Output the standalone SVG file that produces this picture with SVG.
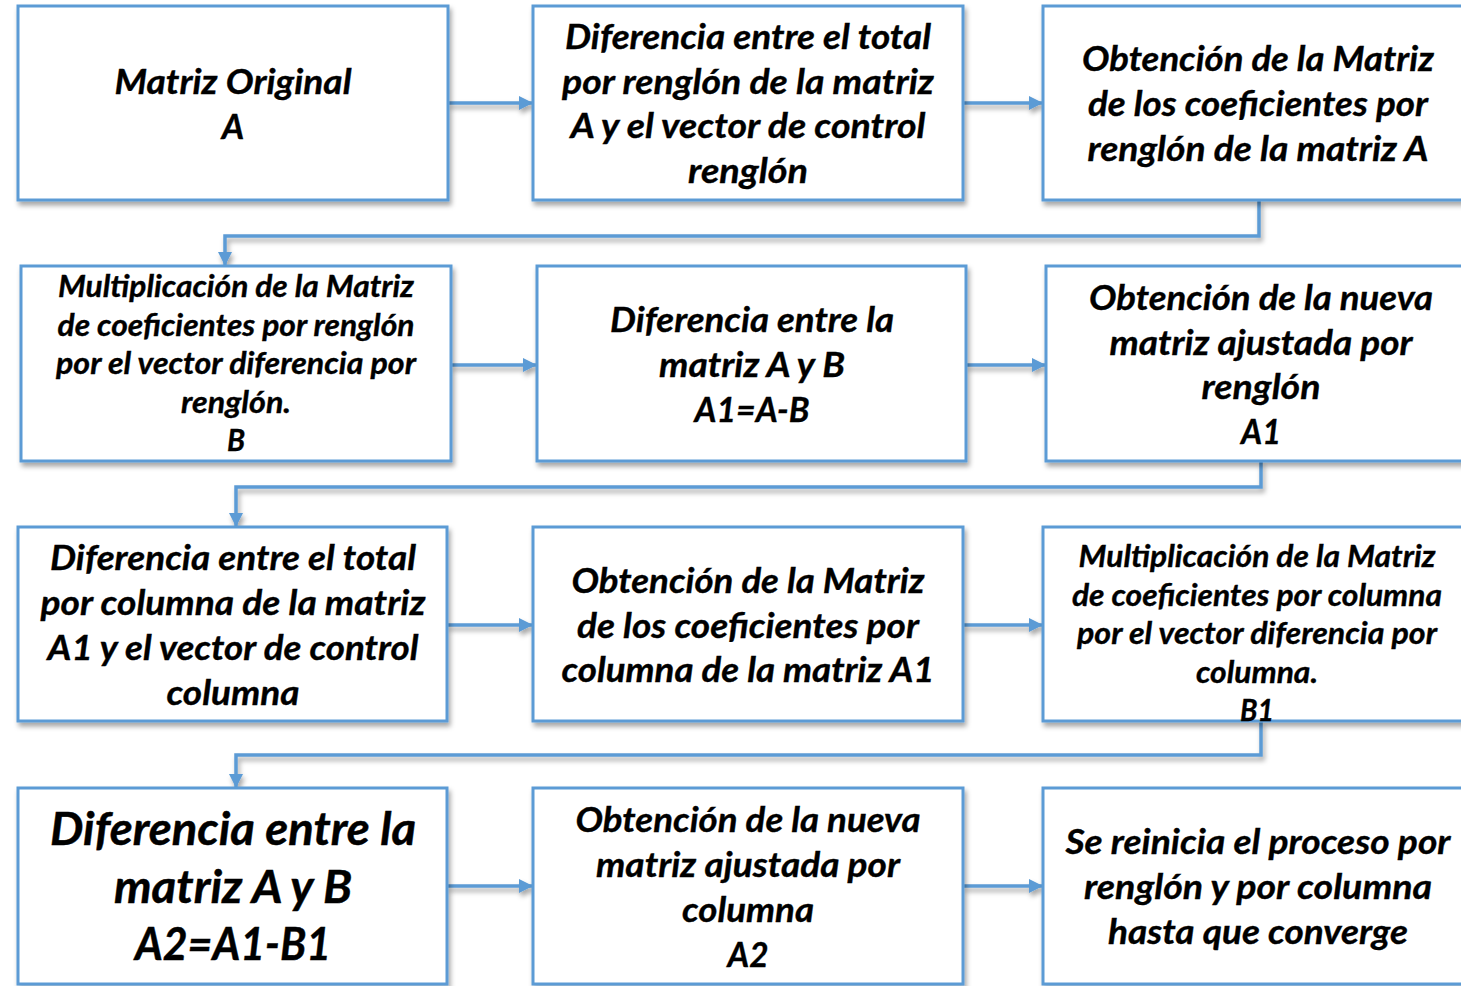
<svg xmlns="http://www.w3.org/2000/svg" width="1461" height="986" viewBox="0 0 1461 986">
<style>
.box{fill:#fff;stroke:#5B9BD5;stroke-width:3;filter:url(#sh)}
.t{font-family:Lato,"Open Sans",sans-serif;font-weight:700;font-style:italic;fill:#000;stroke:#000;stroke-width:0.35;text-anchor:middle;font-size:34.5px}
.s{font-size:29.5px}
.l{font-size:45px;stroke-width:0.45}
.c{fill:none;stroke:#5B9BD5;stroke-width:3.5}
</style>
<defs>
<filter id="sh" x="-10%" y="-10%" width="125%" height="130%">
<feDropShadow dx="2" dy="4" stdDeviation="2.5" flood-color="#000" flood-opacity="0.35"/>
</filter>
<marker id="ah" viewBox="0 0 14 14" refX="14" refY="7" markerWidth="14" markerHeight="14" markerUnits="userSpaceOnUse" orient="auto">
<path d="M0,0 L14,7 L0,14 z" fill="#5B9BD5"/>
</marker>
</defs>
<rect width="1461" height="986" fill="#fff"/>
<g id="connectors" filter="url(#sh)">
<path class="c" d="M448,103 H533" marker-end="url(#ah)"/>
<path class="c" d="M963,103 H1043" marker-end="url(#ah)"/>
<path class="c" d="M451,365 H537" marker-end="url(#ah)"/>
<path class="c" d="M966,365 H1046" marker-end="url(#ah)"/>
<path class="c" d="M447,625 H533" marker-end="url(#ah)"/>
<path class="c" d="M963,625 H1043" marker-end="url(#ah)"/>
<path class="c" d="M447,886 H533" marker-end="url(#ah)"/>
<path class="c" d="M963,886 H1043" marker-end="url(#ah)"/>
<path class="c" d="M1259,200 V236 H225 V266" marker-end="url(#ah)"/>
<path class="c" d="M1261,461 V487 H236 V527" marker-end="url(#ah)"/>
<path class="c" d="M1261,721 V755 H236 V788" marker-end="url(#ah)"/>
</g>
<g id="n1"><rect class="box" x="18" y="6" width="430" height="194"/>
<text class="t" x="233" y="94" textLength="237" lengthAdjust="spacingAndGlyphs">Matriz Original</text>
<text class="t" x="233" y="139">A</text></g>
<g id="n2"><rect class="box" x="533" y="6" width="430" height="194"/>
<text class="t" x="748" y="49" textLength="366" lengthAdjust="spacingAndGlyphs">Diferencia entre el total</text>
<text class="t" x="748" y="94" textLength="372" lengthAdjust="spacingAndGlyphs">por renglón de la matriz</text>
<text class="t" x="748" y="138" textLength="355" lengthAdjust="spacingAndGlyphs">A y el vector de control</text>
<text class="t" x="748" y="183" textLength="120" lengthAdjust="spacingAndGlyphs">renglón</text></g>
<g id="n3"><rect class="box" x="1043" y="6" width="430" height="194"/>
<text class="t" x="1258" y="71" textLength="352" lengthAdjust="spacingAndGlyphs">Obtención de la Matriz</text>
<text class="t" x="1258" y="116" textLength="340" lengthAdjust="spacingAndGlyphs">de los coeficientes por</text>
<text class="t" x="1258" y="161" textLength="341" lengthAdjust="spacingAndGlyphs">renglón de la matriz A</text></g>
<g id="n4"><rect class="box" x="21" y="266" width="430" height="195"/>
<text class="t s" x="236" y="297" textLength="356" lengthAdjust="spacingAndGlyphs">Multiplicación de la Matriz</text>
<text class="t s" x="236" y="336" textLength="357" lengthAdjust="spacingAndGlyphs">de coeficientes por renglón</text>
<text class="t s" x="236" y="374" textLength="360" lengthAdjust="spacingAndGlyphs">por el vector diferencia por</text>
<text class="t s" x="236" y="413" textLength="110" lengthAdjust="spacingAndGlyphs">renglón.</text>
<text class="t s" x="236" y="451">B</text></g>
<g id="n5"><rect class="box" x="537" y="266" width="429" height="195"/>
<text class="t" x="752" y="332" textLength="284" lengthAdjust="spacingAndGlyphs">Diferencia entre la</text>
<text class="t" x="752" y="377" textLength="186" lengthAdjust="spacingAndGlyphs">matriz A y B</text>
<text class="t" x="752" y="422" textLength="115" lengthAdjust="spacingAndGlyphs">A1=A-B</text></g>
<g id="n6"><rect class="box" x="1046" y="266" width="430" height="195"/>
<text class="t" x="1261" y="310" textLength="344" lengthAdjust="spacingAndGlyphs">Obtención de la nueva</text>
<text class="t" x="1261" y="355" textLength="303" lengthAdjust="spacingAndGlyphs">matriz ajustada por</text>
<text class="t" x="1261" y="399" textLength="119" lengthAdjust="spacingAndGlyphs">renglón</text>
<text class="t" x="1261" y="444" textLength="40" lengthAdjust="spacingAndGlyphs">A1</text></g>
<g id="n7"><rect class="box" x="18" y="527" width="429" height="194"/>
<text class="t" x="233" y="570" textLength="366" lengthAdjust="spacingAndGlyphs">Diferencia entre el total</text>
<text class="t" x="233" y="615" textLength="385" lengthAdjust="spacingAndGlyphs">por columna de la matriz</text>
<text class="t" x="233" y="660" textLength="371" lengthAdjust="spacingAndGlyphs">A1 y el vector de control</text>
<text class="t" x="233" y="705" textLength="133" lengthAdjust="spacingAndGlyphs">columna</text></g>
<g id="n8"><rect class="box" x="533" y="527" width="430" height="194"/>
<text class="t" x="748" y="593" textLength="353" lengthAdjust="spacingAndGlyphs">Obtención de la Matriz</text>
<text class="t" x="748" y="638" textLength="342" lengthAdjust="spacingAndGlyphs">de los coeficientes por</text>
<text class="t" x="748" y="682" textLength="373" lengthAdjust="spacingAndGlyphs">columna de la matriz A1</text></g>
<g id="n9"><rect class="box" x="1043" y="527" width="430" height="194"/>
<text class="t s" x="1257" y="567" textLength="357" lengthAdjust="spacingAndGlyphs">Multiplicación de la Matriz</text>
<text class="t s" x="1257" y="606" textLength="370" lengthAdjust="spacingAndGlyphs">de coeficientes por columna</text>
<text class="t s" x="1257" y="644" textLength="360" lengthAdjust="spacingAndGlyphs">por el vector diferencia por</text>
<text class="t s" x="1257" y="683" textLength="122" lengthAdjust="spacingAndGlyphs">columna.</text>
<text class="t s" x="1257" y="721" textLength="34" lengthAdjust="spacingAndGlyphs">B1</text></g>
<g id="n10"><rect class="box" x="18" y="788" width="429" height="196"/>
<text class="t l" x="233" y="845" textLength="366" lengthAdjust="spacingAndGlyphs">Diferencia entre la</text>
<text class="t l" x="233" y="903" textLength="238" lengthAdjust="spacingAndGlyphs">matriz A y B</text>
<text class="t l" x="233" y="960" textLength="196" lengthAdjust="spacingAndGlyphs">A2=A1-B1</text></g>
<g id="n11"><rect class="box" x="533" y="788" width="430" height="196"/>
<text class="t" x="748" y="832" textLength="345" lengthAdjust="spacingAndGlyphs">Obtención de la nueva</text>
<text class="t" x="748" y="877" textLength="304" lengthAdjust="spacingAndGlyphs">matriz ajustada por</text>
<text class="t" x="748" y="922" textLength="132" lengthAdjust="spacingAndGlyphs">columna</text>
<text class="t" x="748" y="967" textLength="41" lengthAdjust="spacingAndGlyphs">A2</text></g>
<g id="n12"><rect class="box" x="1043" y="788" width="430" height="196"/>
<text class="t" x="1258" y="854" textLength="385" lengthAdjust="spacingAndGlyphs">Se reinicia el proceso por</text>
<text class="t" x="1258" y="899" textLength="348" lengthAdjust="spacingAndGlyphs">renglón y por columna</text>
<text class="t" x="1258" y="944" textLength="300" lengthAdjust="spacingAndGlyphs">hasta que converge</text></g>
</svg>
